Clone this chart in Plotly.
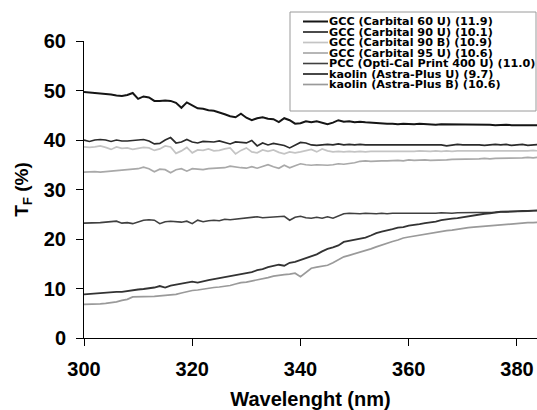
import plotly.graph_objects as go

wavelength = list(range(300, 385))

gcc_60u = [49.7, 49.6, 49.5, 49.4, 49.4, 49.2, 49.0, 48.9, 49.1, 49.5,
           48.3, 48.8, 48.6, 47.9, 47.9, 48.0, 47.9, 47.5, 46.5, 47.6,
           47.0, 46.4, 46.3, 46.0, 45.9, 45.6, 45.2, 44.8, 44.6, 45.3,
           44.5, 44.0, 44.4, 44.6, 44.3, 44.2, 43.6, 44.4, 44.0, 43.3,
           43.4, 43.8, 43.6, 43.8, 43.5, 43.2, 43.5, 44.0, 43.7, 43.8,
           43.6, 43.7, 43.6, 43.5, 43.5, 43.4, 43.3, 43.3, 43.2, 43.3,
           43.2, 43.2, 43.3, 43.2, 43.2, 43.1, 43.2, 43.2, 43.1, 43.2,
           43.2, 43.1, 43.1, 43.2, 43.1, 43.1, 43.0, 43.1, 43.1, 43.0,
           43.0, 43.0, 43.1, 43.0, 43.0]

gcc_90u = [40.0, 39.7, 40.0, 40.1, 40.0, 39.7, 40.0, 39.8, 39.8, 39.9,
           40.0, 40.1, 39.8, 39.2, 39.3, 40.0, 40.5, 39.4, 39.6, 40.1,
           39.6, 39.4, 39.7, 39.7, 39.6, 39.8, 39.5, 39.2, 39.6, 39.5,
           39.4, 39.9, 38.8, 39.4, 39.0, 39.3, 39.1, 38.9, 38.4, 39.0,
           39.5, 39.4, 39.0, 38.9, 39.0, 39.1, 39.0, 39.2, 39.0, 39.1,
           39.0, 39.1, 39.0, 39.0, 39.1, 39.0, 39.1, 39.0, 39.0, 39.1,
           39.0, 39.1, 39.0, 39.1, 39.0, 39.1, 39.0, 38.8, 39.0, 39.1,
           39.0, 39.0, 39.1, 39.0, 38.9, 39.0, 39.1, 39.0, 39.1, 38.9,
           39.0, 39.1, 38.9, 39.0, 39.1]

gcc_90b = [38.6, 38.5, 38.6, 38.8, 38.5, 38.1, 38.6, 38.3, 38.4, 38.1,
           38.3, 38.5, 38.4, 37.9, 38.2, 38.8, 38.6, 37.3, 37.8, 38.5,
           37.4, 38.0, 37.9, 38.2, 37.8, 37.9, 38.2, 38.4, 37.2, 37.9,
           38.4, 37.6, 37.4, 38.0, 37.7, 38.0, 37.5, 37.2, 37.6, 37.4,
           37.6, 37.9, 38.1, 37.6, 38.2, 37.8, 37.6, 37.7, 37.6, 37.7,
           37.6, 37.7, 37.6, 37.7, 37.7, 37.6, 37.7, 37.7, 37.6, 37.7,
           37.7, 37.7, 37.8, 37.7, 37.7, 37.8, 37.7, 37.8, 37.7, 37.8,
           37.8, 37.7, 37.8, 37.8, 37.8, 37.7, 37.8, 37.8, 37.8, 37.8,
           37.8, 37.8, 37.8, 37.9, 37.8]

gcc_95u = [33.5, 33.6, 33.6, 33.5, 33.6, 33.7, 33.7, 33.8, 33.9, 34.0,
           34.2, 34.5, 34.2, 33.6, 34.1, 34.0, 33.4, 34.0, 34.2, 33.7,
           34.2, 34.1, 34.0, 34.2, 34.3, 34.3, 34.4, 34.7, 34.5, 34.4,
           34.3, 34.6, 34.3, 34.6, 35.0, 34.6, 34.3, 34.9, 34.4, 34.8,
           35.2, 35.0, 34.9, 35.0, 34.9, 34.9, 35.0, 35.2, 35.1, 35.2,
           35.4, 35.7, 35.8, 35.7, 35.8, 35.8, 35.8, 35.9, 35.9, 35.8,
           36.0, 35.9, 36.0, 36.0, 35.9, 35.9, 35.9, 36.0, 36.1, 36.1,
           36.1, 36.2, 36.2, 36.2, 36.3, 36.2, 36.3, 36.3, 36.4, 36.4,
           36.4, 36.4, 36.5, 36.4, 36.5]

pcc_400u = [23.2, 23.2, 23.3, 23.3, 23.4, 23.5, 23.6, 23.2, 23.3, 23.1,
            23.4, 23.8, 23.9, 23.8, 23.1, 23.5, 23.6, 23.5, 23.4, 23.6,
            23.1, 23.8, 23.5, 23.7, 23.8, 23.7, 24.0, 23.9, 24.0, 24.1,
            24.2, 24.3, 24.5, 24.3, 24.4, 24.5, 24.6, 24.6, 23.8, 24.4,
            24.6, 24.3, 24.2, 24.4, 24.2, 24.5, 24.2, 24.6, 25.1, 25.2,
            25.1, 25.1, 25.2, 25.1, 25.1, 25.2, 25.1, 25.2, 25.2, 25.2,
            25.2, 25.1, 25.2, 25.2, 25.2, 25.2, 25.3, 25.2, 25.2, 25.3,
            25.3, 25.3, 25.3, 25.4, 25.4, 25.4, 25.4, 25.5, 25.5, 25.5,
            25.5, 25.6, 25.6, 25.7, 25.7]

kaolin_u = [8.8, 8.9, 8.9, 9.0, 9.1, 9.2, 9.3, 9.3, 9.5, 9.6,
            9.8, 9.9, 10.0, 10.2, 10.5, 10.2, 10.6, 10.8, 11.0, 11.1,
            11.4, 11.2, 11.5, 11.7, 11.9, 12.1, 12.4, 12.5, 12.7, 12.9,
            13.1, 13.3, 13.7, 13.9, 14.3, 14.6, 14.8, 14.6, 15.2, 15.4,
            15.8, 16.1, 16.6, 16.9, 17.5, 18.0, 18.3, 18.7, 19.4, 19.6,
            19.8, 20.1, 20.3, 20.7, 21.2, 21.5, 21.7, 22.0, 22.3, 22.4,
            22.7, 22.8, 23.0, 23.2, 23.3, 23.5, 23.8, 24.0, 24.1, 24.2,
            24.4, 24.6, 24.7, 24.9, 25.1, 25.2, 25.4, 25.5, 25.5, 25.6,
            25.6, 25.7, 25.7, 25.8, 25.8]

kaolin_b = [6.8, 6.8, 6.9, 6.9, 7.0, 7.1, 7.3, 7.6, 7.8, 8.3,
            8.3, 8.3, 8.4, 8.4, 8.5, 8.6, 8.8, 8.8, 9.1, 9.4,
            9.6, 9.7, 9.9, 10.1, 10.2, 10.3, 10.4, 10.6, 10.9, 11.2,
            11.3, 11.5, 11.7, 11.9, 12.2, 12.5, 12.7, 12.8, 12.9, 13.1,
            12.4, 13.2, 14.1, 14.3, 14.5, 14.7, 15.2, 15.8, 16.4, 16.7,
            17.0, 17.4, 17.6, 18.0, 18.4, 18.8, 19.1, 19.5, 19.8, 20.2,
            20.4, 20.6, 20.8, 21.0, 21.1, 21.3, 21.5, 21.7, 21.8, 22.0,
            22.2, 22.3, 22.4, 22.5, 22.6, 22.7, 22.8, 22.8, 22.9, 23.0,
            23.1, 23.2, 23.3, 23.3, 23.4]

series_names = ["GCC (Carbital 60 U) (11.9)",
                "GCC (Carbital 90 U) (10.1)",
                "GCC (Carbital 90 B) (10.9)",
                "GCC (Carbital 95 U) (10.6)",
                "PCC (Opti-Cal Print 400 U) (11.0)",
                "kaolin (Astra-Plus U) (9.7)",
                "kaolin (Astra-Plus B) (10.6)"]
series_values = [gcc_60u, gcc_90u, gcc_90b, gcc_95u, pcc_400u, kaolin_u, kaolin_b]
series_colors = ["#151515", "#2b2b2b", "#c4c4c4", "#a9a9a9", "#404040", "#333333", "#9a9a9a"]
series_widths = [2.0, 1.7, 1.7, 1.7, 1.6, 1.8, 1.7]

x_ticks = [300, 320, 340, 360, 380]
y_ticks = [0, 10, 20, 30, 40, 50, 60]

FONT = "Arial, 'Liberation Sans', sans-serif"
LEGEND_FONT = "'DejaVu Sans', sans-serif"

fig = go.Figure()
for name, vals, col, w in zip(series_names, series_values, series_colors, series_widths):
    fig.add_trace(go.Scatter(x=wavelength, y=vals, mode="lines", name=name,
                             line=dict(color=col, width=w), showlegend=False))

# Manual compact legend (pixel layout -> paper coords)
L, R, T, B = 84, 537, 41, 338
def px(xp):
    return (xp - L) / (R - L)
def py(yp):
    return (B - yp) / (B - T)

shapes = [dict(type="rect", xref="paper", yref="paper",
               x0=px(290), x1=px(536), y0=py(111), y1=py(12),
               line=dict(color="#9a9a9a", width=1), fillcolor="white", layer="above")]
annotations = []
row0, step = 21.5, 10.5
for i, (name, col, w) in enumerate(zip(series_names, series_colors, series_widths)):
    yc = row0 + i * step
    shapes.append(dict(type="line", xref="paper", yref="paper",
                       x0=px(303), x1=px(328), y0=py(yc), y1=py(yc),
                       line=dict(color=col, width=w), layer="above"))
    annotations.append(dict(xref="paper", yref="paper", x=px(327), y=py(yc),
                            xanchor="left", yanchor="middle", showarrow=False,
                            text=name, font=dict(family=LEGEND_FONT, size=11.2,
                                                 color="black", weight="bold")))

fig.update_layout(
    width=537, height=410,
    margin=dict(l=L, r=537 - R, t=T, b=410 - B, autoexpand=False),
    paper_bgcolor="white", plot_bgcolor="white",
    font=dict(family=FONT, color="black"),
    shapes=shapes, annotations=annotations,
    xaxis=dict(range=[300, 383.7], tickvals=x_ticks, showgrid=False, zeroline=False,
               showline=True, linecolor="black", linewidth=1, ticks="outside",
               ticklen=7, tickcolor="black", tickwidth=1, ticklabelstandoff=6,
               tickfont=dict(size=20, weight="bold", family=FONT),
               title=dict(text="Wavelenght (nm)", standoff=16,
                          font=dict(size=20, weight="bold", family=FONT)),
               automargin=False),
    yaxis=dict(range=[0, 60], tickvals=y_ticks, showgrid=False, zeroline=False,
               showline=True, linecolor="black", linewidth=1, ticks="outside",
               ticklen=7, tickcolor="black", tickwidth=1, ticklabelstandoff=6,
               tickfont=dict(size=20, weight="bold", family=FONT),
               title=dict(text="T<sub>F</sub> (%)", standoff=10,
                          font=dict(size=19, weight="bold", family=FONT)),
               automargin=False),
)

fig.write_html("out.html")
